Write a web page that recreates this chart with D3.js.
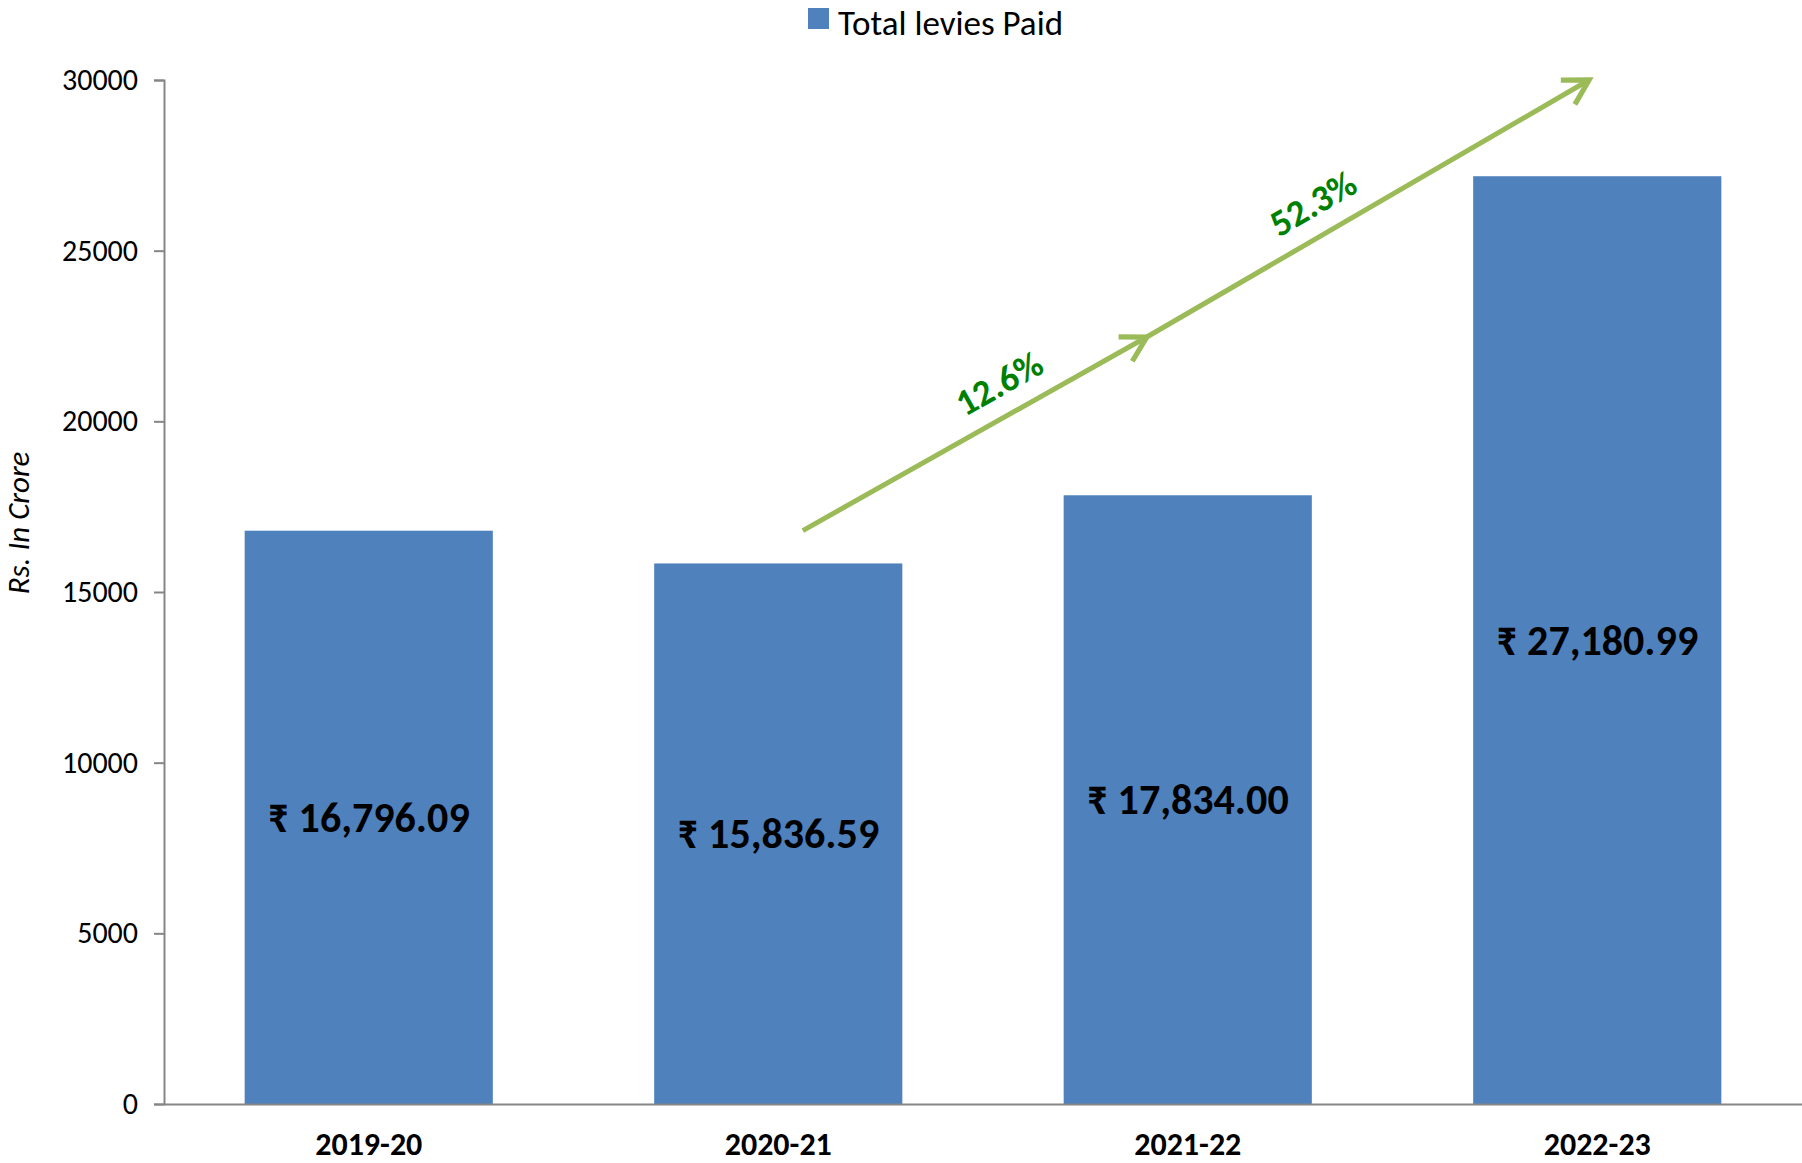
<html>
<head>
<script src="https://cdn.jsdelivr.net/npm/d3@7"></script>
<style>
body { margin: 0; background: #fff; }
svg text { font-family: Carlito, Calibri, Lato, "DejaVu Sans", sans-serif; }
.y-axis path, .y-axis line, .x-axis path { stroke: #868686; stroke-width: 2; }
</style>
</head>
<body>
<svg></svg>
<script>

var width = 1802;
var height = 1163;

// data
var years = ["2019-20", "2020-21", "2021-22", "2022-23"];
var levies = [16796.09, 15836.59, 17834.00, 27180.99];
var yTicks = [0, 5000, 10000, 15000, 20000, 25000, 30000];
var seriesName = "Total levies Paid";
var growthLabels = ["12.6%", "52.3%"];
// arrow points: category, offset inside band (fraction of step), value
var arrowPts = [
  {cat: "2020-21", off: 0.06, v: 16800},
  {cat: "2021-22", off: -0.10, v: 22470},
  {cat: "2022-23", off: -0.02, v: 30000}
];
// label shift along each arrow (px)
var labelAlong = [46, -45];

var margin = {left: 164, right: 0, top: 80, bottom: 59};

var svg = d3.select("svg").attr("width", width).attr("height", height);

var x = d3.scaleBand().domain(years)
  .range([margin.left, width - margin.right])
  .paddingInner(0.394).paddingOuter(0.197);

var y = d3.scaleLinear().domain([0, 30000])
  .range([height - margin.bottom, margin.top]);

// y axis
var yAxisG = svg.append("g")
  .attr("class", "y-axis")
  .attr("transform", "translate(" + margin.left + ",0)")
  .call(d3.axisLeft(y).tickValues(yTicks).tickSize(10).tickSizeOuter(10).tickPadding(16).tickFormat(d3.format("d")));
yAxisG.selectAll("text").style("font-size", "30px").attr("fill", "#000");
yAxisG.select(".domain").attr("stroke", "#868686");

// bars
svg.selectAll("rect.bar").data(levies).enter().append("rect")
  .attr("class", "bar")
  .attr("x", function(d, i) { return x(years[i]); })
  .attr("y", function(d) { return y(d); })
  .attr("width", x.bandwidth())
  .attr("height", function(d) { return y(0) - y(d); })
  .attr("fill", "#4F81BD");

// x axis
var xAxisG = svg.append("g")
  .attr("class", "x-axis")
  .attr("transform", "translate(0," + y(0) + ")")
  .call(d3.axisBottom(x).tickSize(0).tickSizeOuter(0).tickPadding(28));
xAxisG.select(".domain").attr("stroke", "#868686");
xAxisG.selectAll("text").style("font-size", "32px").style("font-weight", "bold").attr("fill", "#000");

// value labels
var fmt = d3.format(",.2f");
svg.selectAll("text.val").data(levies).enter().append("text")
  .attr("class", "val")
  .attr("x", function(d, i) { return x(years[i]) + x.bandwidth() / 2; })
  .attr("y", function(d) { return (y(d) + y(0)) / 2; })
  .attr("text-anchor", "middle")
  .attr("dominant-baseline", "central")
  .style("font-size", "42px")
  .style("font-weight", "bold")
  .text(function(d) { return "\u20B9 " + fmt(d); });

// legend
var lg = svg.append("g").attr("transform", "translate(808,8)");
lg.append("rect").attr("width", 21).attr("height", 21).attr("fill", "#4F81BD");
lg.append("text").attr("x", 30).attr("y", 27)
  .style("font-size", "35px").text(seriesName);

// y title
svg.append("text")
  .attr("transform", "translate(29,523) rotate(-90)")
  .attr("text-anchor", "middle")
  .style("font-size", "31px").style("font-style", "italic")
  .text("Rs. In Crore");

// growth arrows
var defs = svg.append("defs");
defs.append("marker").attr("id", "head")
  .attr("viewBox", "0 0 10 10").attr("refX", 8).attr("refY", 5)
  .attr("markerWidth", 7).attr("markerHeight", 7).attr("orient", "auto")
  .append("path").attr("d", "M1,1 L8,5 L1,9")
  .attr("fill", "none").attr("stroke", "#9BBB59").attr("stroke-width", 1.5);

var pts = arrowPts.map(function(p) {
  return [x(p.cat) + x.bandwidth() / 2 + p.off * x.step(), y(p.v)];
});

for (var i = 0; i < pts.length - 1; i++) {
  var a = pts[i], b = pts[i + 1];
  svg.append("line")
    .attr("x1", a[0]).attr("y1", a[1]).attr("x2", b[0]).attr("y2", b[1])
    .attr("stroke", "#9BBB59").attr("stroke-width", 5)
    .attr("marker-end", "url(#head)");
  var ang = Math.atan2(b[1] - a[1], b[0] - a[0]) * 180 / Math.PI;
  var mx = (a[0] + b[0]) / 2, my = (a[1] + b[1]) / 2;
  svg.append("text")
    .attr("transform", "translate(" + mx + "," + my + ") rotate(" + ang + ") translate(" + labelAlong[i] + ",-32)")
    .attr("text-anchor", "middle")
    .attr("dominant-baseline", "central")
    .style("font-size", "37px").style("font-weight", "bold")
    .attr("fill", "#008000")
    .text(growthLabels[i]);
}

</script>
</body>
</html>
